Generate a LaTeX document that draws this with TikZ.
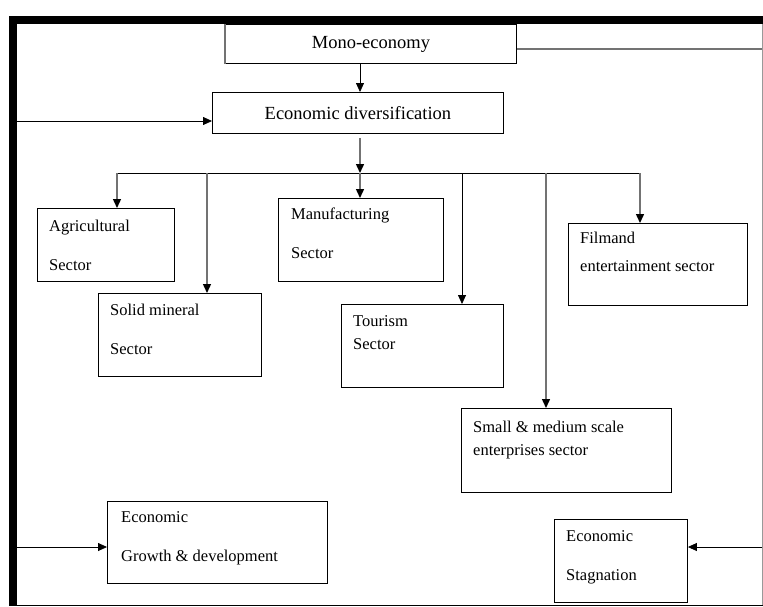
\documentclass[tikz,border=0pt]{standalone}
\usepackage{fontspec}
\setmainfont{Liberation Serif}
\usetikzlibrary{positioning,arrows.meta}

\begin{document}
\begin{tikzpicture}[x=1pt, y=-1pt,
    box/.style = {draw, line width=0.9pt, anchor=north west, inner sep=0pt},
    head/.style = {font=\fontsize{18.5}{22}\selectfont},
    txt/.style = {font=\fontsize{16.5}{39}\selectfont, align=left, inner sep=0pt},
    tight/.style = {font=\fontsize{16.5}{23}\selectfont},
    arr/.style = {-{Triangle[length=9pt,width=8pt,color=black]}, line width=0.8pt},
    garr/.style = {arr, draw=black!55, line width=1.4pt}]
    \useasboundingbox (0,0) rectangle (763,606);

    % boxes
    \node[box, head, minimum width=291pt, minimum height=39pt] (mono) at (225,24) {Mono-economy};
    \node[box, head, minimum width=291pt, minimum height=41pt] (div) at (212,92) {Economic diversification};
    \node[box, minimum width=137pt, minimum height=73pt] (agri) at (37,208) {};
    \node[box, minimum width=163pt, minimum height=83pt] (solid) at (98,293) {};
    \node[box, minimum width=165pt, minimum height=83pt] (manu) at (278,198) {};
    \node[box, minimum width=162pt, minimum height=83pt] (tour) at (341,304) {};
    \node[box, minimum width=179pt, minimum height=82pt] (film) at (568,223) {};
    \node[box, minimum width=210pt, minimum height=84pt] (sme) at (461,408) {};
    \node[box, minimum width=220pt, minimum height=82pt] (grow) at (107,501) {};
    \node[box, minimum width=133pt, minimum height=83pt] (stag) at (554,519) {};

    \node[txt, below right=12pt and 12pt of agri.north west] (agritxt) {Agricultural\\Sector};
    \node[txt, below right=11pt and 12pt of solid.north west] (solidtxt) {Solid mineral\\Sector};
    \node[txt, below right=10pt and 13pt of manu.north west] (manutxt) {Manufacturing\\Sector};
    \node[txt, tight, below right=11pt and 12pt of tour.north west] (tourtxt) {Tourism\\Sector};
    \node[txt, font=\fontsize{16.5}{28}\selectfont, below right=9pt and 12pt of film.north west] (filmtxt) {Filmand\\entertainment sector};
    \node[txt, tight, below right=13pt and 12pt of sme.north west] (smetxt) {Small \& medium scale\\enterprises sector};
    \node[txt, below right=10pt and 14pt of grow.north west] (growtxt) {Economic\\Growth \& development};
    \node[txt, below right=11pt and 12pt of stag.north west] (stagtxt) {Economic\\Stagnation};

    % frame
    \fill (9,16) rectangle (763,24);
    \fill (9,16) rectangle (17,606);
    \draw[line width=0.8pt] (17,605) -- (763,605);
    \draw[black!40, line width=0.8pt] (762,24) -- (762,605);
    \draw[black!55, line width=1.2pt] (mono.north west) -- (mono.south west);

    \coordinate (bus) at (360,173);
    \coordinate (busw) at (117,173);
    \coordinate (bsolid) at (207,173);
    \coordinate (btour) at (462,173);
    \coordinate (bsme) at (546,173);
    \coordinate (buse) at (640,173);
    \coordinate (monoout) at (762,49);
    \coordinate (bardiv) at (17,121);
    \coordinate (bargrow) at (17,547);
    \coordinate (barstag) at (762,547);

    \draw[black!55, line width=1.4pt] (mono.east |- monoout) -- (monoout);
    \draw[arr] (mono.south -| bus) -- (bus |- div.north);
    \draw[arr] (bardiv) -- (bardiv -| div.west);
    \draw[garr] ([yshift=-4pt]div.south -| bus) -- (bus);
    \draw[line width=0.8pt] (busw) -- (buse);

    \draw[garr] (busw) -- (busw |- agri.north);
    \draw[garr] (bsolid) -- (bsolid |- solid.north);
    \draw[garr] (bus) -- (bus |- manu.north);
    \draw[arr] (btour) -- (btour |- tour.north);
    \draw[garr] (bsme) -- (bsme |- sme.north);
    \draw[garr] (buse) -- (buse |- film.north);

    \draw[arr] (bargrow) -- (bargrow -| grow.west);
    \draw[arr] (barstag) -- (barstag -| stag.east);
\end{tikzpicture}
\end{document}
